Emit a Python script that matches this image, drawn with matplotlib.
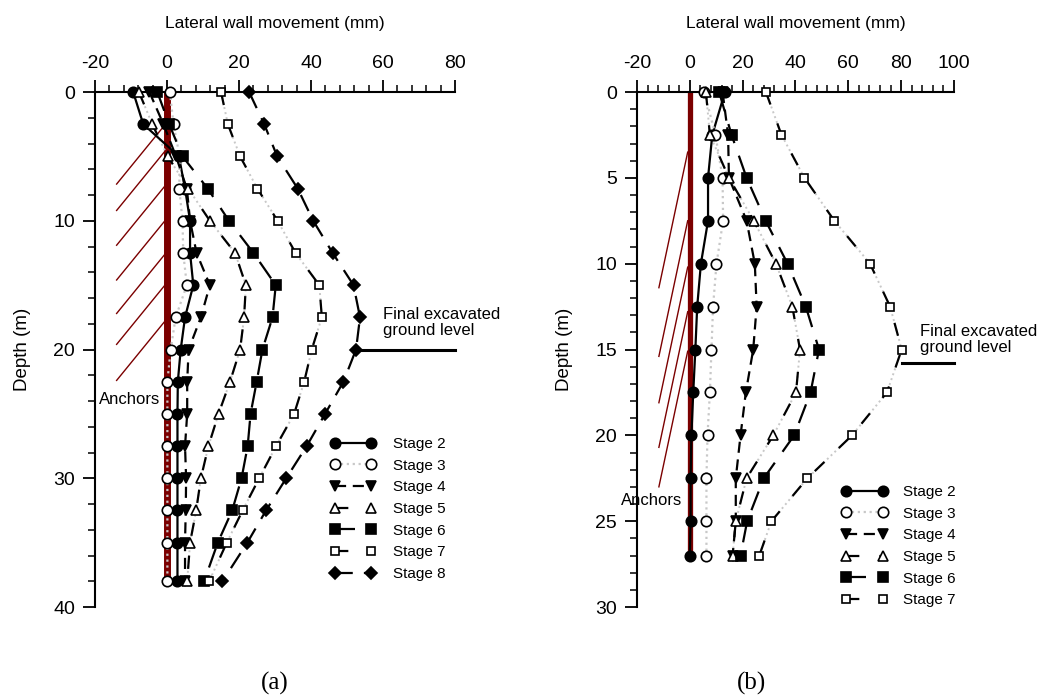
import matplotlib
matplotlib.use("Agg")
import matplotlib.pyplot as plt
from matplotlib.ticker import MultipleLocator

plt.rcParams['font.family'] = ['Liberation Sans', 'DejaVu Sans']
plt.rcParams['axes.unicode_minus'] = False

# ---- data (a) ----
depth_a = [0, 2.5, 5, 7.5, 10, 12.5, 15, 17.5, 20, 22.5, 25, 27.5, 30, 32.5, 35, 38]
a_stage2 = [-9.4, -6.6, 3.3, 5.0, 6.4, 6.4, 7.3, 5.0, 3.8, 3.0, 2.9, 2.9, 2.9, 2.9, 2.9, 2.9]
a_stage3 = [0.8, 1.8, 3.5, 3.4, 4.3, 4.5, 5.5, 2.4, 1.0, 0.1, 0.1, 0.1, 0.1, 0.1, 0.1, 0.1]
a_stage4 = [-4.9, -1.0, 2.5, 5.5, 6.4, 8.2, 11.9, 9.4, 6.0, 5.6, 5.6, 5.0, 5.3, 5.2, 5.0, 5.0]
a_stage5 = [-7.8, -4.1, 0.2, 5.9, 11.9, 18.9, 21.9, 21.4, 20.3, 17.5, 14.3, 11.5, 9.4, 8.1, 6.4, 5.6]
a_stage6 = [-2.7, 0.6, 4.3, 11.3, 17.2, 24.0, 30.2, 29.3, 26.5, 24.9, 23.2, 22.4, 20.7, 18.1, 14.1, 10.3]
a_stage7 = [15.0, 16.9, 20.3, 25.1, 30.7, 35.7, 42.3, 43.0, 40.2, 38.1, 35.3, 30.3, 25.6, 21.0, 16.6, 11.7]
a_stage8 = [22.8, 27.0, 30.6, 36.3, 40.6, 46.0, 51.8, 53.6, 52.5, 49.0, 43.9, 38.8, 33.1, 27.5, 22.3, 15.4]
a_anchor_depths = [7.15, 9.2, 11.9, 14.6, 17.2, 19.6, 22.4]

# ---- data (b) ----
depth_b = [0, 2.5, 5, 7.5, 10, 12.5, 15, 17.5, 20, 22.5, 25, 27]
b_stage2 = [13.3, 8.5, 6.9, 6.9, 4.2, 2.8, 2.1, 1.3, 0.6, 0.3, 0.3, 0.0]
b_stage3 = [5.5, 9.7, 12.4, 12.6, 10.1, 8.8, 8.2, 7.6, 6.7, 6.3, 6.3, 6.3]
b_stage4 = [12.4, 14.5, 14.8, 21.5, 24.6, 25.3, 24.0, 21.2, 19.2, 17.4, 17.4, 16.2]
b_stage5 = [6.1, 7.6, 14.8, 24.2, 32.6, 38.8, 41.7, 40.2, 31.6, 21.5, 17.4, 16.2]
b_stage6 = [11.1, 15.8, 21.5, 28.7, 37.0, 43.9, 48.9, 45.7, 39.5, 28.0, 21.7, 19.2]
b_stage7 = [28.8, 34.7, 43.4, 54.7, 68.2, 75.8, 80.2, 74.6, 61.4, 44.5, 30.9, 26.3]
b_anchor_depths = [11.4, 15.4, 18.1, 20.7, 23.0]

styles = {
    'Stage 2': dict(marker='o', mfc='black', ms=7.5, ls='-', color='black'),
    'Stage 3': dict(marker='o', mfc='white', ms=7.5, ls=':', color='#c8c8c8', mec='black'),
    'Stage 4': dict(marker='v', mfc='black', ms=7.5, ls=(0, (5, 3)), color='black'),
    'Stage 5': dict(marker='^', mfc='white', ms=7, ls=(0, (6, 9)), color='black'),
    'Stage 6': dict(marker='s', mfc='black', ms=6.5, ls=(0, (9, 6)), color='black'),
    'Stage 7': dict(marker='s', mfc='white', ms=6, ls=(0, (6, 9)), color='black'),
    'Stage 8': dict(marker='D', mfc='black', ms=6, ls=(0, (8, 5)), color='black'),
}
gray_under = ['Stage 5', 'Stage 7']
wall_red = '#7b0000'

fig = plt.figure(figsize=(10.43, 6.97), dpi=100)
ax1 = fig.add_axes([0.0911, 0.1291, 0.3452, 0.7389])
ax2 = fig.add_axes([0.6107, 0.1291, 0.3040, 0.7389])


def draw_stage(ax, depth, vals, name):
    st = dict(styles[name])
    if name in gray_under:
        ax.plot(vals, depth, ls=':', color='#c8c8c8', lw=1.4, zorder=2)
    mec = st.pop('mec', 'black')
    ax.plot(vals, depth, lw=1.6, mec=mec, mew=1.2, label=name, zorder=3,
            clip_on=False, **st)


def style_axes(ax, xmax, ymax, yminor):
    ax.set_xlim(-20, xmax)
    ax.set_ylim(ymax, 0)
    ax.xaxis.tick_top()
    ax.xaxis.set_label_position('top')
    ax.xaxis.set_major_locator(MultipleLocator(20))
    ax.xaxis.set_minor_locator(MultipleLocator(4))
    ax.yaxis.set_minor_locator(MultipleLocator(yminor))
    for s in ['right', 'bottom']:
        ax.spines[s].set_visible(False)
    for s in ['top', 'left']:
        ax.spines[s].set_linewidth(1.5)
    ax.tick_params(which='major', length=8.5, width=1.3, labelsize=14, pad=6)
    ax.tick_params(which='minor', length=5, width=1.1)
    ax.set_xlabel('Lateral wall movement (mm)', fontsize=12.5, labelpad=19)
    ax.set_ylabel('Depth (m)', fontsize=13.5, labelpad=16)


# ---- panel (a) ----
ax1.plot([0, 0], [0, 38], color=wall_red, lw=5, zorder=1, solid_capstyle='butt')
for d in a_anchor_depths:
    ax1.plot([-14, 0], [d, d - 4.8], color=wall_red, lw=1.0, zorder=1)
for name, vals in [('Stage 2', a_stage2), ('Stage 3', a_stage3), ('Stage 4', a_stage4),
                   ('Stage 5', a_stage5), ('Stage 6', a_stage6), ('Stage 7', a_stage7),
                   ('Stage 8', a_stage8)]:
    draw_stage(ax1, depth_a, vals, name)
style_axes(ax1, 80, 40, 2)
ax1.yaxis.set_major_locator(MultipleLocator(10))
ax1.plot([52.7, 80], [20, 20], color='black', lw=2.2, clip_on=False)
ax1.text(60, 17.9, 'Final excavated\nground level', fontsize=12, va='center',
         ha='left', linespacing=1.1)
ax1.text(-18.8, 23.9, 'Anchors', fontsize=12, va='center', ha='left')
ax1.legend(loc='upper left', bbox_to_anchor=(0.653, 0.330), frameon=False,
           fontsize=11, numpoints=2, handlelength=3.0, handletextpad=1.1,
           labelspacing=0.5, borderpad=0, borderaxespad=0)

# ---- panel (b) ----
ax2.plot([0, 0], [0, 27], color=wall_red, lw=3.8, zorder=1, solid_capstyle='butt')
for d in b_anchor_depths:
    ax2.plot([-11.7, -0.8], [d, d - 7.9], color=wall_red, lw=1.0, zorder=1)
for name, vals in [('Stage 2', b_stage2), ('Stage 3', b_stage3), ('Stage 4', b_stage4),
                   ('Stage 5', b_stage5), ('Stage 6', b_stage6), ('Stage 7', b_stage7)]:
    draw_stage(ax2, depth_b, vals, name)
style_axes(ax2, 100, 30, 1)
ax2.yaxis.set_major_locator(MultipleLocator(5))
ax2.plot([80.2, 100], [15.8, 15.8], color='black', lw=2.2, clip_on=False)
ax2.text(87.1, 14.4, 'Final excavated\nground level', fontsize=12, va='center',
         ha='left', linespacing=1.1, clip_on=False)
ax2.text(-3.0, 23.8, 'Anchors', fontsize=12, va='center', ha='right', clip_on=False)
ax2.legend(loc='upper left', bbox_to_anchor=(0.646, 0.237), frameon=False,
           fontsize=11, numpoints=2, handlelength=3.0, handletextpad=1.0,
           labelspacing=0.5, borderpad=0, borderaxespad=0)

fig.text(275 / 1043, 1 - 683 / 697, '(a)', fontsize=18, ha='center', va='center',
         family=['Liberation Serif', 'DejaVu Serif'])
fig.text(752 / 1043, 1 - 683 / 697, '(b)', fontsize=18, ha='center', va='center',
         family=['Liberation Serif', 'DejaVu Serif'])

fig.savefig('out.png', dpi=100)
